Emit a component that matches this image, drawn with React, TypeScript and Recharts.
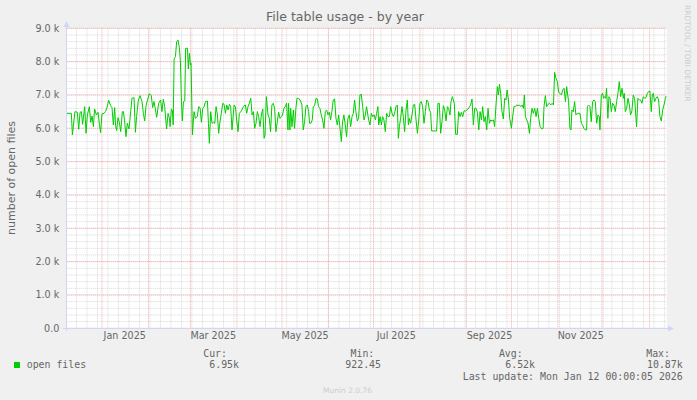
import { LineChart, Line, XAxis, YAxis, CartesianGrid } from 'recharts';

// x: days since the left edge of the graph (8 Dec 2024, noon), 400 days wide
const dayOffsets = [
  0, 3.1, 3.8, 5.5, 7.1, 8.0, 8.9, 9.8, 10.6, 12.0, 12.9, 13.8, 15.1, 16.0, 16.9, 17.8, 18.6, 19.8, 20.9, 21.8,
  22.6, 23.5, 24.9, 25.8, 26.6, 28.0, 29.3, 30.2, 31.1, 32.0, 32.6, 33.3, 34.2, 35.1, 36.0, 37.1, 37.8, 38.6, 39.5, 40.4,
  41.5, 42.2, 43.5, 44.9, 45.8, 46.6, 47.8, 48.9, 50.2, 51.1, 52.0, 52.9, 53.8, 55.1, 56.4, 57.3, 58.2, 59.1, 60.0, 61.3,
  62.6, 63.5, 64.4, 65.3, 66.6,
  67.6, 68.5, 68.9, 69.8, 70.5, 71.0, 71.6, 72.5, 73.3, 74.2, 75.1, 75.8, 76.5, 77.1, 77.8, 78.7, 79.3, 80.5, 81.1, 81.8,
  82.5, 82.9, 83.8, 84.9, 85.8, 87.1, 88.0, 88.9, 89.8, 90.7, 91.6, 92.5, 93.8, 94.5, 95.1, 96.0, 96.9, 97.8, 98.7, 99.6,
  100.5, 101.3, 102.2, 103.1, 104.0, 104.9, 105.8, 106.7, 107.6, 108.5, 109.3, 110.2, 111.6, 112.5, 113.3, 114.2, 115.1, 116.5, 117.8, 119.1,
  120.0, 120.9, 121.8, 122.7, 123.6, 124.5, 125.3, 126.2, 127.1, 128.0, 128.9, 129.8, 130.7, 131.6, 132.2, 133.1,
  134.2, 135.1, 135.9, 136.8, 137.7, 138.6, 139.5, 140.4, 141.3, 142.2, 143.1, 143.9, 144.8, 145.7, 146.6, 147.5, 147.9, 148.8, 149.3, 150.2,
  151.1, 151.9, 152.8, 153.5, 154.6, 155.9, 156.8, 157.7, 158.6, 159.5, 160.4, 161.3, 161.9, 162.8, 163.7, 164.4, 165.3, 166.2, 167.1, 167.9,
  168.8, 169.7, 170.6, 171.5, 172.4, 173.3, 174.2, 175.1, 175.9, 176.8, 177.7, 178.6, 179.5, 180.4, 181.3, 182.2, 183.1, 183.9, 184.8, 185.7,
  186.6, 187.5, 188.4, 189.3, 190.2, 191.1, 191.9, 192.8, 193.7, 194.6, 195.5, 196.4, 197.3, 198.2, 199.1, 199.9,
  201.3, 202.2, 203.1, 204.0, 204.9, 205.8, 206.6, 207.5, 208.0, 208.9, 209.8, 210.6, 211.5, 212.4, 213.3, 214.2, 215.1, 216.0, 216.9, 217.8,
  218.6, 219.5, 220.4, 221.1, 221.8, 222.6, 223.5, 224.4, 225.3, 226.2, 227.1, 227.8, 228.4, 229.3, 230.2, 231.1, 232.0, 232.9, 233.8, 234.6,
  235.5, 236.4, 237.3, 238.2, 239.1, 240.0, 240.9, 241.8, 242.6, 243.3, 246.6, 247.5, 248.4, 249.3, 250.2, 251.1, 252.0, 252.9, 253.8, 254.6,
  255.5, 256.2, 257.1, 257.8, 258.4, 259.3, 260.4, 261.3, 262.2, 263.1, 264.0, 264.9, 266.0,
  267.6, 268.5, 269.3, 270.2, 271.1, 272.0, 272.9, 273.8, 274.7, 275.6, 276.5, 277.3, 278.2, 279.1, 280.0, 280.9, 281.8, 282.7, 283.6, 284.5,
  285.3, 286.2, 287.1, 287.8, 288.5, 289.3, 290.2, 291.1, 292.0, 292.9, 293.6, 294.5, 295.3, 296.5, 297.3, 298.2, 299.1, 300.0, 300.9, 301.8,
  302.7, 303.6, 304.5, 305.1, 305.8, 306.7, 307.6, 308.5, 309.3, 310.2, 311.1, 312.0, 312.9, 313.8, 314.7, 315.6, 316.7, 317.6, 318.2, 319.1,
  320.0, 320.9, 321.8, 322.7, 323.6, 324.5, 325.3, 326.2, 327.1, 328.0, 328.9, 329.8, 330.7, 331.6, 332.5, 333.3,
  334.6, 335.5, 336.2, 336.8, 337.7, 338.6, 339.5, 340.4, 341.3, 342.2, 343.1, 343.9, 344.8, 345.7, 346.6, 347.1, 347.9, 348.8, 349.7, 350.6,
  351.5, 352.4, 353.3, 354.2, 355.1, 355.5, 356.4, 357.3, 357.9, 358.6, 359.3, 359.9, 360.8, 361.5, 362.2, 363.1, 363.9, 364.8, 365.7, 366.6,
  367.5, 368.4, 369.3, 370.2, 371.1, 371.7, 372.4, 373.3, 374.2, 375.1, 375.9, 376.8, 377.7, 378.6, 379.9, 380.8, 381.7, 382.6, 383.5, 384.4,
  385.3, 386.2, 387.1, 387.9, 388.8, 389.7, 390.4, 391.1, 391.9, 392.8, 393.7, 394.6, 395.5, 396.4, 397.3, 398.2, 399.1, 399.7,
];

// open files, in thousands (same layout as dayOffsets)
const openFilesK = [
  6.45, 6.45, 5.80, 6.50, 6.48, 5.97, 6.48, 6.50, 6.12, 6.65, 5.85, 6.40, 6.65, 6.18, 6.37, 6.05, 6.58, 6.40, 6.48, 6.12,
  5.87, 6.43, 6.45, 6.50, 6.58, 6.84, 6.68, 6.62, 6.10, 6.62, 6.08, 5.93, 6.32, 6.18, 5.90, 6.50, 6.50, 6.22, 5.75, 6.15,
  5.98, 6.28, 6.90, 6.92, 5.88, 6.35, 6.85, 6.98, 6.80, 6.45, 6.22, 6.68, 6.84, 7.04, 6.98, 6.62, 6.80, 6.58, 6.33, 6.75,
  6.85, 6.50, 6.87, 6.66, 5.98,
  6.45, 6.30, 6.05, 6.58, 6.52, 6.10, 8.08, 8.15, 8.60, 8.65, 8.42, 8.02, 6.80, 6.22, 6.80, 6.82, 8.40, 8.40, 7.78, 8.25,
  7.90, 7.95, 5.80, 6.50, 6.30, 6.35, 6.65, 6.62, 6.18, 6.60, 6.65, 6.80, 6.82, 6.15, 5.55, 6.50, 6.15, 6.18, 6.15, 6.65,
  6.40, 5.85, 6.20, 6.45, 6.75, 6.72, 6.45, 6.70, 6.55, 6.72, 6.65, 5.95, 6.70, 6.65, 6.25, 5.90, 6.45, 6.52, 6.65, 6.70,
  6.45, 6.65, 6.75, 6.90, 6.40, 6.50, 6.00, 6.15, 6.50, 6.35, 6.05, 6.40, 6.58, 5.70, 5.80, 6.95,
  6.40, 6.30, 5.90, 6.70, 6.75, 6.60, 5.90, 6.20, 6.48, 6.30, 6.35, 6.40, 6.60, 6.65, 6.75, 5.95, 6.75, 5.95, 6.60, 6.05,
  6.55, 6.00, 6.60, 6.90, 6.90, 6.82, 6.70, 5.95, 6.20, 6.65, 6.70, 6.50, 6.15, 6.15, 6.25, 6.65, 6.68, 6.90, 6.88, 6.65,
  6.60, 6.40, 6.25, 6.00, 6.50, 6.55, 6.40, 6.48, 6.25, 6.50, 6.85, 6.88, 6.30, 6.10, 6.40, 6.00, 5.60, 6.20, 6.40, 6.10,
  5.75, 6.30, 6.40, 6.05, 6.35, 6.45, 6.85, 6.50, 6.22, 6.30, 7.00, 7.02, 6.65, 6.25, 6.40, 6.65,
  6.25, 6.10, 6.45, 6.35, 6.40, 6.25, 6.45, 6.65, 6.10, 6.35, 6.10, 6.35, 6.25, 5.90, 6.45, 6.35, 6.35, 6.65, 6.45, 6.35,
  6.45, 6.65, 6.70, 5.70, 6.05, 6.30, 6.65, 6.35, 5.90, 6.55, 6.85, 6.10, 6.30, 6.15, 6.40, 6.70, 6.72, 6.25, 5.85, 6.20,
  6.75, 6.80, 6.65, 6.15, 6.50, 6.85, 6.80, 6.55, 6.48, 5.92, 5.92, 6.75, 6.75, 5.85, 6.20, 6.68, 6.55, 6.22, 6.65, 6.60,
  6.40, 6.80, 6.95, 6.85, 6.75, 5.82, 5.82, 6.50, 6.35, 6.48, 6.35, 6.52, 6.52,
  6.58, 6.65, 6.70, 6.88, 6.10, 6.60, 6.60, 6.48, 5.95, 6.50, 6.25, 6.65, 6.20, 6.35, 5.95, 6.60, 6.15, 6.25, 6.22, 6.25,
  6.05, 6.70, 7.25, 7.00, 7.32, 7.05, 6.50, 6.28, 6.90, 6.85, 7.15, 6.85, 6.30, 6.00, 6.35, 6.65, 6.65, 6.70, 6.68, 6.70,
  6.65, 6.70, 6.60, 7.00, 6.35, 6.25, 6.15, 5.85, 6.30, 6.60, 6.45, 6.60, 6.35, 6.60, 6.30, 6.05, 5.98, 6.00, 6.65, 6.98,
  6.65, 6.72, 6.75, 6.70, 6.75, 6.70, 7.68, 7.50, 7.40, 7.08, 7.05, 7.00, 7.15, 7.20, 6.80, 7.25,
  6.80, 6.00, 5.95, 6.55, 6.50, 6.80, 6.40, 6.45, 6.45, 6.45, 6.15, 6.10, 6.00, 5.95, 5.95, 6.65, 6.70, 6.65, 6.20, 6.80,
  6.85, 6.80, 6.15, 6.40, 6.35, 5.95, 7.00, 7.05, 6.90, 6.95, 6.90, 7.20, 6.30, 6.95, 6.90, 6.50, 6.75, 6.70, 6.50, 6.80,
  7.05, 7.40, 6.95, 7.20, 6.90, 7.05, 6.50, 6.60, 6.90, 6.70, 6.40, 6.52, 7.00, 6.90, 6.05, 6.90, 6.85, 6.85, 6.75, 6.95,
  6.90, 6.92, 7.05, 7.10, 7.12, 6.50, 7.00, 7.05, 6.80, 6.90, 6.95, 6.85, 6.35, 6.22, 6.55, 6.70, 6.90, 6.97,
];

// first of each month, Jan 2025 .. Jan 2026
const monthStartDays = [23.5, 54.5, 82.5, 113.5, 143.5, 174.5, 204.5, 235.5, 266.5, 296.5, 327.5, 357.5, 388.5];
const monthLabelDays = [38.7, 97.7, 158.9, 219.7, 281.9, 342.7];
const monthLabels = ['Jan 2025', 'Mar 2025', 'May 2025', 'Jul 2025', 'Sep 2025', 'Nov 2025'];
const weekStartDays = Array.from({ length: 57 }, (_, i) => 6.5 + i * 7);

const yMajorTicks = [0, 1, 2, 3, 4, 5, 6, 7, 8, 9];
const yMinorTicks = Array.from({ length: 46 }, (_, i) => Math.round(i * 2) / 10);

const seriesName = 'open files';
const statLabels = ['Cur:', 'Min:', 'Avg:', 'Max:'];
const statValues = ['6.95k', '922.45', '6.52k', '10.87k'];
const lastUpdate = 'Last update: Mon Jan 12 00:00:05 2026';

const SANS = 'DejaVu Sans, sans-serif';
const MONO = 'DejaVu Sans Mono, monospace';
const FONT_COLOR = '#666666';
const AXIS_COLOR = '#CFD6F8';

// right edges of the legend columns
const statLabelRight = [227, 374.3, 522.7, 670];
const statValueRight = [239, 381, 535, 682.7];

export default function App() {
  const data = dayOffsets.map((day, i) => ({ day, openFiles: openFilesK[i] }));

  return (
    <div style={{ position: 'absolute', left: 0, top: 0, width: 697, height: 400, background: '#f0f0f0', overflow: 'hidden' }}>
      <LineChart width={697} height={400} data={data} margin={{ top: 28.3, right: 30.3, bottom: 51.7, left: 0 }}>
        <CartesianGrid fill="#ffffff" horizontal={false} vertical={false} />
        <CartesianGrid
          stroke="#d6d6d6"
          strokeDasharray="1 1"
          horizontalValues={yMinorTicks}
          verticalValues={weekStartDays}
        />
        <CartesianGrid
          stroke="#f4a8a8"
          strokeDasharray="1 1"
          horizontalValues={yMajorTicks}
          verticalValues={monthStartDays}
        />
        <XAxis
          dataKey="day"
          type="number"
          domain={[0, 400]}
          allowDataOverflow
          ticks={monthLabelDays}
          interval={0}
          tickFormatter={(v: number) => monthLabels[monthLabelDays.indexOf(v)] ?? ''}
          height={20}
          axisLine={false}
          tickLine={false}
          tickSize={2}
          tickMargin={2}
          tick={{ fill: FONT_COLOR, fontSize: 9.6, fontFamily: SANS }}
        />
        <YAxis
          type="number"
          domain={[0, 9]}
          allowDataOverflow
          ticks={yMajorTicks}
          interval={0}
          width={66.7}
          tickFormatter={(v: number) => (v === 0 ? '0.0' : `${v.toFixed(1)} k`)}
          axisLine={false}
          tickLine={false}
          tickSize={3}
          tickMargin={4.4}
          tick={{ fill: FONT_COLOR, fontSize: 9.6, fontFamily: SANS }}
        />
        <Line
          type="linear"
          dataKey="openFiles"
          stroke="#00cc00"
          strokeWidth={1}
          dot={false}
          activeDot={false}
          isAnimationActive={false}
        />
      </LineChart>

      <svg width={697} height={400} style={{ position: 'absolute', left: 0, top: 0, pointerEvents: 'none' }}>
        {/* axes with arrows */}
        <line x1={63} y1={328.5} x2={670} y2={328.5} stroke={AXIS_COLOR} />
        <line x1={66.5} y1={331} x2={66.5} y2={25} stroke={AXIS_COLOR} />
        <polygon points="66.5,21 63.5,27 69.5,27" fill={AXIS_COLOR} />
        <polygon points="674,328.5 668,325.5 668,331.5" fill={AXIS_COLOR} />

        <text x={345} y={21} textAnchor="middle" fontFamily={SANS} fontSize={12.5} fill={FONT_COLOR}>
          File table usage - by year
        </text>
        <text
          x={15}
          y={178}
          transform="rotate(-90 15 178)"
          textAnchor="middle"
          fontFamily={SANS}
          fontSize={11}
          fill={FONT_COLOR}
        >
          number of open files
        </text>
        <text
          x={684.5}
          y={5}
          transform="rotate(90 684.5 5)"
          fontFamily={SANS}
          fontSize={7.5}
          fill="#cccccc"
        >
          RRDTOOL / TOBI OETIKER
        </text>

        <rect x={14} y={362} width={6} height={6} fill="#00cc00" />
        <text x={26.7} y={368.3} fontFamily={MONO} fontSize={9.9} fill={FONT_COLOR}>
          {seriesName}
        </text>
        {statLabels.map((label, i) => (
          <text key={label} x={statLabelRight[i]} y={356.5} textAnchor="end" fontFamily={MONO} fontSize={9.9} fill={FONT_COLOR}>
            {label}
          </text>
        ))}
        {statValues.map((value, i) => (
          <text key={value} x={statValueRight[i]} y={368.3} textAnchor="end" fontFamily={MONO} fontSize={9.9} fill={FONT_COLOR}>
            {value}
          </text>
        ))}
        <text x={682.7} y={379.5} textAnchor="end" fontFamily={MONO} fontSize={9.9} fill={FONT_COLOR}>
          {lastUpdate}
        </text>
        <text x={347.5} y={392.5} textAnchor="middle" fontFamily={SANS} fontSize={7.5} fill="#cccccc">
          Munin 2.0.76
        </text>
      </svg>
    </div>
  );
}
